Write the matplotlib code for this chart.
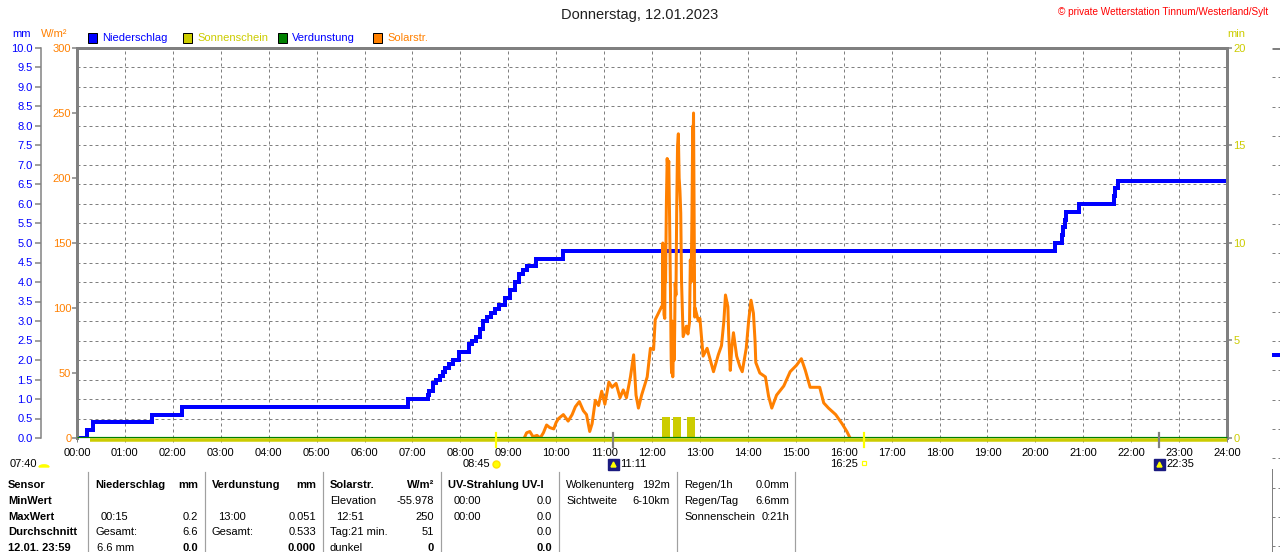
import numpy as np
import matplotlib
matplotlib.use("Agg")
import matplotlib.pyplot as plt
import matplotlib.transforms as mtransforms
from matplotlib.patches import Rectangle
from matplotlib.lines import Line2D

plt.rcParams['font.family'] = ['Liberation Sans', 'DejaVu Sans']

# ---------------- data ----------------
# cumulative precipitation (minutes of day, mm)
precip_min = [0, 13, 20, 94, 132, 415, 439, 441, 446, 449, 454, 458, 461, 466, 471, 478,
              491, 494, 499, 504, 509, 514, 519, 524, 529, 536, 542, 548, 554, 558, 563,
              575, 609, 1225, 1234, 1235, 1237, 1239, 1255, 1298, 1300, 1304, 1440]
precip_mm = [0.0, 0.2, 0.4, 0.6, 0.8, 1.0, 1.1, 1.2, 1.4, 1.5, 1.6, 1.7, 1.8, 1.9, 2.0, 2.2,
             2.4, 2.5, 2.6, 2.8, 3.0, 3.1, 3.2, 3.3, 3.4, 3.6, 3.8, 4.0, 4.2, 4.3, 4.4,
             4.6, 4.8, 5.0, 5.2, 5.4, 5.6, 5.8, 6.0, 6.2, 6.4, 6.6, 6.6]

# solar radiation (minutes of day, W/m²)
solar_min = [560, 563, 567, 571, 576, 580, 584, 588, 592, 597, 600, 603, 609, 615, 620, 624,
             629, 634, 638, 642, 645, 649, 653, 657, 661, 666, 670, 675, 680, 684, 688, 693,
             697, 700, 703, 707, 714, 718, 722, 724, 728, 732,
             733, 733.5, 734, 734.5, 735, 736, 736.5, 737, 738, 739, 740, 741, 742, 743,
             744, 744.5, 745, 746, 747, 748, 749, 750, 751, 752, 753, 754, 755, 756, 757,
             758, 759, 761, 763, 765, 767, 768, 769, 770, 771, 771.5, 772, 772.5, 773,
             773.5, 774, 776, 778, 780, 784, 789, 793, 797, 803, 807, 810, 812, 815, 816, 818,
             820, 822, 826, 830, 833, 838, 841, 844, 847, 849, 850, 855, 862, 866, 870, 876,
             885, 893, 901, 907, 912, 918, 924, 930, 935, 941, 950, 958, 964, 968]
solar_wm2 = [0, 4, 5, 1, 2, 0, 4, 10, 8, 7, 12, 15, 18, 13, 18, 24,
             28, 21, 18, 5, 11, 29, 25, 36, 26, 43, 39, 42, 31, 37, 31, 47,
             64, 33, 23, 33, 47, 69, 68, 91, 96, 101,
             101, 150, 110, 147, 95, 92, 140, 120, 180, 215, 205, 213, 170, 120,
             60, 50, 90, 47, 80, 60, 119, 110, 180, 225, 234, 200, 190, 173, 120,
             100, 78, 82, 86, 80, 89, 137, 120, 170, 240, 225, 250, 200, 150,
             93, 100, 95, 90, 92, 63, 69, 60, 51, 64, 71, 90, 110, 101, 80, 52,
             70, 81, 63, 55, 51, 69, 90, 106, 96, 75, 58, 50, 47, 32, 23, 33,
             40, 51, 56, 61, 52, 39, 39, 39, 27, 23, 18, 11, 5, 0]

# sunshine minutes per interval (interval start minute, minutes)
sun_start_min = [732, 746, 764]
sun_minutes = [1.1, 1.1, 1.1]
sun_interval = 11
sun_line_min = [16, 1440]

# evaporation (flat)
verd_min = [0, 1440]
verd_mm = [0.0, 0.0]

hour_labels = [f"{h:02d}:00" for h in range(25)]
mm_ticks = [i * 0.5 for i in range(21)]
wm2_ticks = [0, 50, 100, 150, 200, 250, 300]
min_ticks = [0, 5, 10, 15, 20]

sunrise, sunset = "08:45", "16:25"
moonrise, moonset = "11:11", "22:35"
day_length = "07:40"

title = "Donnerstag, 12.01.2023"
copyright_txt = "© private Wetterstation Tinnum/Westerland/Sylt"

BLUE = "#0000FF"
ORANGE = "#FF8000"
YEL = "#CCCC00"
GREEN = "#008000"
GRAY = "#808080"

W, H = 1280, 552
fig = plt.figure(figsize=(W / 100, H / 100), dpi=100)
fig.patch.set_facecolor("white")


def fx(x):
    return x / W


def fy(y):
    return 1 - y / H


def hm(s):
    h, m = s.split(":")
    return int(h) + int(m) / 60.0


PX = 0.72  # points per pixel
rect = [fx(77), fy(438), fx(1227) - fx(77), fy(48) - fy(438)]

# precipitation axes (grid + blue)
axP = fig.add_axes(rect)
axP.set_xlim(0, 24)
axP.set_ylim(0, 10)
axP.patch.set_visible(False)
for s in ["top", "right", "bottom"]:
    axP.spines[s].set_visible(False)
axP.spines["left"].set_position(("outward", 36 * PX))
axP.spines["left"].set_color(GRAY)
axP.spines["left"].set_linewidth(1.5 * PX)
axP.set_yticks(mm_ticks)
axP.set_yticklabels([f"{v:.1f}" for v in mm_ticks])
axP.tick_params(axis="y", colors=GRAY, labelcolor=BLUE, length=6 * PX, width=1.5 * PX,
                pad=1.5, labelsize=8)
axP.set_xticks(range(25))
axP.set_xticklabels(hour_labels)
axP.tick_params(axis="x", colors=GRAY, labelcolor="black", length=4 * PX, width=1 * PX,
                pad=4, labelsize=8)
axP.grid(True, color=GRAY, linestyle=(0, (3, 3)), linewidth=1 * PX)
axP.set_axisbelow(True)
axP.plot(np.array(precip_min) / 60, precip_mm, drawstyle="steps-post", color=BLUE,
         lw=4 * PX, solid_joinstyle="miter", zorder=3)

# solar axes
axS = axP.twinx()
axS.set_ylim(0, 300)
axS.yaxis.tick_left()
axS.spines["bottom"].set_visible(False)
for s in ["left", "right", "top"]:
    axS.spines[s].set_color(GRAY)
    axS.spines[s].set_linewidth(3 * PX)
axS.set_yticks(wm2_ticks)
axS.set_yticklabels([str(v) for v in wm2_ticks])
axS.tick_params(axis="y", colors=GRAY, labelcolor=ORANGE, length=5 * PX, width=1.5 * PX,
                pad=0.5, labelsize=8)
axS.plot(np.array(solar_min) / 60, solar_wm2, color=ORANGE, lw=3 * PX, zorder=3)

# sunshine axes
axM = axP.twinx()
axM.set_ylim(0, 20)
for s in ["left", "right", "top", "bottom"]:
    axM.spines[s].set_visible(False)
axM.set_yticks(min_ticks)
axM.set_yticklabels([str(v) for v in min_ticks])
axM.tick_params(axis="y", colors=GRAY, labelcolor=YEL, length=5 * PX, width=1.5 * PX,
                pad=1, labelsize=8)
axM.bar(np.array(sun_start_min) / 60, sun_minutes, width=(sun_interval - 1) / 60,
        align="edge", color=YEL, zorder=2)
down = mtransforms.ScaledTranslation(0, -1.5 / 100, fig.dpi_scale_trans)
up = mtransforms.ScaledTranslation(0, 1.0 / 100, fig.dpi_scale_trans)
axM.plot(np.array(sun_line_min) / 60, [0, 0], color=YEL, lw=3.5 * PX, zorder=2,
         clip_on=False, solid_capstyle="butt", transform=axM.transData + down)
axM.plot(np.array(verd_min) / 60, verd_mm, color=GREEN, lw=1.2 * PX, zorder=3,
         clip_on=False, solid_capstyle="butt", transform=axM.transData + up)

# event markers below the axis
tr = mtransforms.blended_transform_factory(axM.transData, axM.transAxes)
y_tick0, y_tick1 = 5 / 390, -9 / 390
y_evt = -26 / 390
off_l = mtransforms.ScaledTranslation(-6 / 100, 0, fig.dpi_scale_trans)
off_r = mtransforms.ScaledTranslation(7 / 100, 0, fig.dpi_scale_trans)
for t, col in [(sunrise, "#FFFF00"), (sunset, "#FFFF00"), (moonrise, GRAY), (moonset, GRAY)]:
    axM.add_line(Line2D([hm(t), hm(t)], [y_tick0, y_tick1], transform=tr, color=col,
                        lw=2.2 * PX, clip_on=False, zorder=5))
# sunrise / sunset
axM.text(hm(sunrise), y_evt, sunrise, transform=tr + off_l, ha="right", va="center",
         fontsize=8, color="black")
axM.plot([hm(sunrise)], [y_evt], marker="o", ms=7 * PX, color="#FFFF00", mec="#FFE000",
         transform=tr, clip_on=False)
axM.text(hm(sunset), y_evt, sunset, transform=tr + off_l, ha="right", va="center",
         fontsize=8, color="black")
axM.plot([hm(sunset)], [y_evt + 1 / 390], marker="s", ms=5 * PX, mfc="none", mec="#FFFF00",
         mew=1.2 * PX, transform=tr, clip_on=False)
# moonrise / moonset
for t in [moonrise, moonset]:
    axM.plot([hm(t)], [y_evt], marker="s", ms=11 * PX, color="#1a1a80", transform=tr,
             clip_on=False)
    axM.plot([hm(t)], [y_evt], marker="^", ms=5 * PX, color="#FFFF00", transform=tr,
             clip_on=False)
    axM.text(hm(t), y_evt, t, transform=tr + off_r, ha="left", va="center", fontsize=8,
             color="black")
# day length
fig.text(fx(10), fy(464), day_length, ha="left", va="center", fontsize=8, color="black")
fig.add_artist(matplotlib.patches.Wedge((fx(44), fy(467)), fx(5), 0, 180,
                                        transform=fig.transFigure, color="#FFFF00"))

# header texts
fig.text(fx(640), fy(15), title, ha="center", va="center", fontsize=10.5, color="#202020")
fig.text(fx(1268), fy(12), copyright_txt, ha="right", va="center", fontsize=7.2, color="red")
fig.text(fx(22), fy(34), "mm", ha="center", va="center", fontsize=8, color=BLUE)
fig.text(fx(54), fy(34), "W/m²", ha="center", va="center", fontsize=8, color=ORANGE)
fig.text(fx(1236), fy(34), "min", ha="center", va="center", fontsize=8, color=YEL)

# legend
legend_items = [("Niederschlag", BLUE, BLUE), ("Sonnenschein", YEL, YEL),
                ("Verdunstung", GREEN, BLUE), ("Solarstr.", ORANGE, ORANGE)]
for i, (name, fc, tc) in enumerate(legend_items):
    x0 = 88 + 95 * i
    fig.add_artist(Rectangle((fx(x0), fy(43)), fx(9), fy(33) - fy(43), facecolor=fc,
                             edgecolor="black", lw=1 * PX, transform=fig.transFigure))
    fig.text(fx(x0 + 14), fy(38), name, ha="left", va="center", fontsize=8, color=tc)

# table
rows_y = [485, 501, 517, 532, 548]
first_col = ["Sensor", "MinWert", "MaxWert", "Durchschnitt", "12.01. 23:59"]
for y, s in zip(rows_y, first_col):
    fig.text(fx(8), fy(y), s, ha="left", va="center", fontsize=8, fontweight="bold")

cells = [
    # (x, row, text, align, bold)
    (95, 0, "Niederschlag", "left", True), (198, 0, "mm", "right", True),
    (101, 2, "00:15", "left", False), (198, 2, "0.2", "right", False),
    (95, 3, "Gesamt:", "left", False), (198, 3, "6.6", "right", False),
    (97, 4, "6.6 mm", "left", False), (198, 4, "0.0", "right", True),
    (212, 0, "Verdunstung", "left", True), (316, 0, "mm", "right", True),
    (218, 2, "13:00", "left", False), (316, 2, "0.051", "right", False),
    (212, 3, "Gesamt:", "left", False), (316, 3, "0.533", "right", False),
    (316, 4, "0.000", "right", True),
    (330, 0, "Solarstr.", "left", True), (434, 0, "W/m²", "right", True),
    (330, 1, "Elevation", "left", False), (434, 1, "-55.978", "right", False),
    (336, 2, "12:51", "left", False), (434, 2, "250", "right", False),
    (330, 3, "Tag:21 min.", "left", False), (434, 3, "51", "right", False),
    (330, 4, "dunkel", "left", False), (434, 4, "0", "right", True),
    (448, 0, "UV-Strahlung UV-I", "left", True),
    (454, 1, "00:00", "left", False), (552, 1, "0.0", "right", False),
    (454, 2, "00:00", "left", False), (552, 2, "0.0", "right", False),
    (552, 3, "0.0", "right", False), (552, 4, "0.0", "right", True),
    (566, 0, "Wolkenunterg", "left", False), (670, 0, "192m", "right", False),
    (566, 1, "Sichtweite", "left", False), (670, 1, "6-10km", "right", False),
    (684, 0, "Regen/1h", "left", False), (789, 0, "0.0mm", "right", False),
    (684, 1, "Regen/Tag", "left", False), (789, 1, "6.6mm", "right", False),
    (684, 2, "Sonnenschein", "left", False), (789, 2, "0:21h", "right", False),
]
for x, r, s, al, b in cells:
    fig.text(fx(x), fy(rows_y[r]), s, ha=al, va="center", fontsize=8,
             fontweight="bold" if b else "normal", color="black")

for xs in [88, 205, 323, 441, 559, 677, 795]:
    fig.add_artist(Line2D([fx(xs), fx(xs)], [fy(472), fy(552)], color="#A0A0A0",
                          lw=1.2 * PX, transform=fig.transFigure))

# partial neighbouring chart at the right edge
axR = fig.add_axes([fx(1272), fy(552), fx(8), fy(48) - fy(552)])
axR.set_xlim(0, 1)
axR.set_ylim(504 / 29.3, 0)
axR.axis("off")
axR.hlines(np.arange(1, 18), 0, 1, colors=GRAY, linestyles=(0, (3, 3)), lw=1 * PX)
axR.hlines([0], 0, 1, colors=GRAY, lw=3 * PX)
axR.plot([0, 0], [422 / 29.3, 504 / 29.3], color=GRAY, lw=2 * PX)
axR.hlines([307 / 29.3], 0, 1, colors=BLUE, lw=4 * PX)

fig.savefig("out.png", dpi=100, facecolor="white")
